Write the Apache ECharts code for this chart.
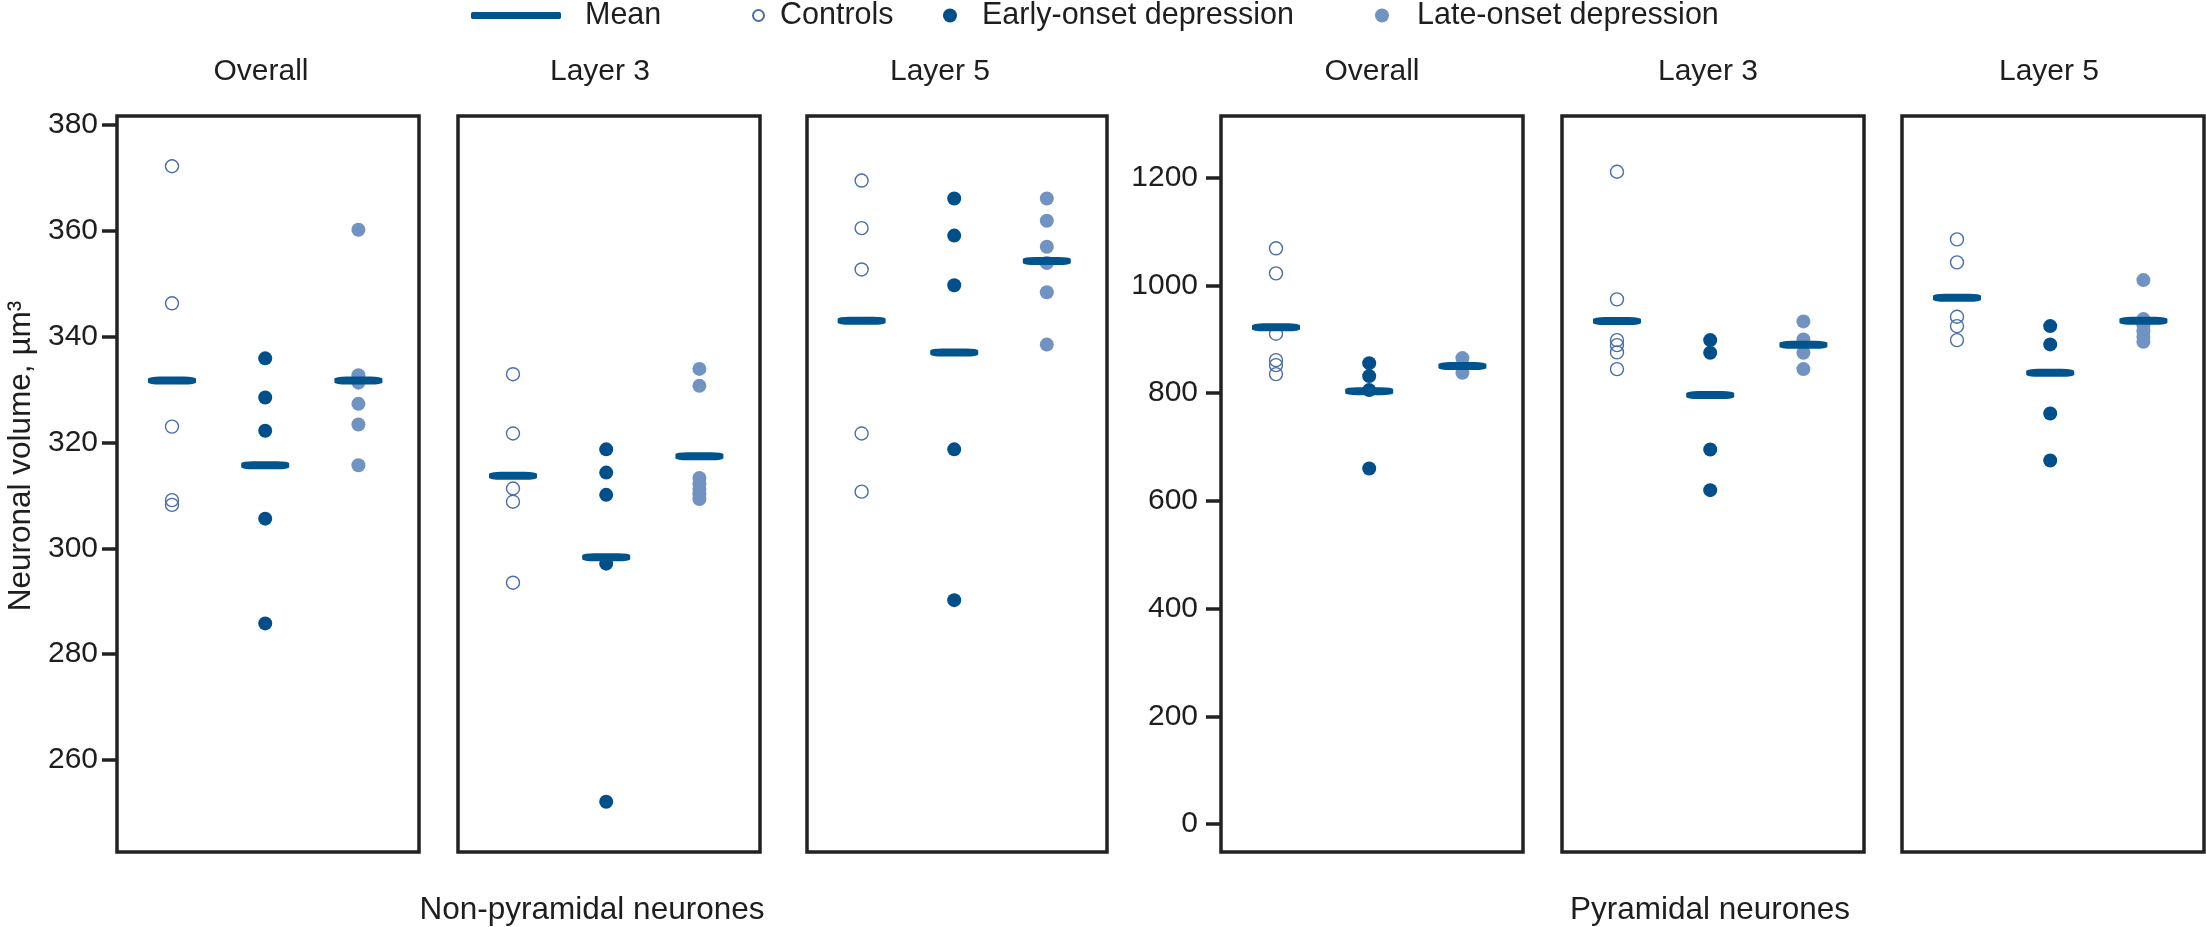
<!DOCTYPE html>
<html>
<head>
<meta charset="utf-8">
<script src="https://cdn.jsdelivr.net/npm/echarts@6/dist/echarts.min.js"></script>
<style>
html,body{margin:0;padding:0;background:#fff;}
#chart{width:2206px;height:927px;}
</style>
</head>
<body>
<div id="chart"></div>
<script>
// ---------- data ----------
const panelTitles = ['Overall', 'Layer 3', 'Layer 5', 'Overall', 'Layer 3', 'Layer 5'];
const groupLabels = ['Non-pyramidal neurones', 'Pyramidal neurones'];
const seriesNames = ['Mean', 'Controls', 'Early-onset depression', 'Late-onset depression'];
const yAxisTitle = 'Neuronal volume, µm³';

const controls = [
  [372.2, 346.3, 323.0, 309.1, 308.2],
  [332.9, 321.7, 311.3, 308.8, 293.5],
  [369.5, 360.5, 352.7, 321.7, 310.7],
  [1069, 1022.5, 910.3, 861.4, 852.1, 835.4],
  [1211.2, 974.2, 898.6, 889.3, 875.7, 844.7],
  [1085.6, 1042.9, 941.9, 924.6, 898.6]
];
const earlyOnset = [
  [335.9, 328.5, 322.2, 305.6, 285.8],
  [318.7, 314.3, 310.1, 297.1, 252.1],
  [366.1, 359.1, 349.7, 318.7, 290.2],
  [855.8, 831.7, 805.7, 660.2],
  [898.6, 875.0, 695.5, 619.9],
  [924.6, 890.6, 762.4, 675.0]
];
const lateOnset = [
  [360.2, 332.7, 331.3, 327.3, 323.4, 315.7],
  [333.9, 330.7, 313.3, 312.2, 311.2, 310.2, 309.3],
  [366.1, 361.9, 357.0, 353.9, 348.4, 338.5],
  [865.1, 850.3, 837.8],
  [933.3, 899.9, 875.0, 844.7],
  [1010, 937.6, 926.0, 915.0, 905.0, 895.4]
];
// means: [controls, early-onset, late-onset]
const means = [
  [331.7, 315.7, 331.7],
  [313.7, 298.3, 317.4],
  [343.0, 337.0, 354.3],
  [922.2, 803.8, 850.3],
  [933.9, 796.4, 889.8],
  [977.2, 837.8, 934.4]
];
const nonPyrTicks = [260, 280, 300, 320, 340, 360, 380];
const pyrTicks = [0, 200, 400, 600, 800, 1000, 1200];
const nonPyrRange = [242.6, 381.7];
const pyrRange = [-52, 1314.7];

// ---------- style / layout ----------
const FONT = 'Liberation Sans';
const TXT = '#1e1e1e';
const C_MEAN = '#00548E';
const C_CTRL = '#4A6EA8';
const C_EARLY = '#004F8A';
const C_LATE = '#7093C1';
const gridLefts = [117, 458, 807, 1221, 1562, 1902];
const gridWidths = [302, 302, 300, 302, 302, 302];
const titleCenters = [261, 600, 940, 1372, 1708, 2049];
const gridTop = 116, gridHeight = 736;

const chart = echarts.init(document.getElementById('chart'), null, {renderer: 'canvas'});

const grids = [], xAxes = [], yAxes = [], series = [], titles = [];
for (let i = 0; i < 6; i++) {
  grids.push({
    left: gridLefts[i], top: gridTop, width: gridWidths[i], height: gridHeight,
    show: true, borderColor: '#222', borderWidth: 3.5, backgroundColor: 'transparent'
  });
  xAxes.push({
    gridIndex: i, type: 'value', min: 0.41, max: 3.65, show: false
  });
  const pyr = i >= 3;
  const ticks = pyr ? pyrTicks : nonPyrTicks;
  const range = pyr ? pyrRange : nonPyrRange;
  const showAxis = (i === 0 || i === 3);
  yAxes.push({
    gridIndex: i, type: 'value', min: range[0], max: range[1],
    name: i === 0 ? yAxisTitle : '',
    nameLocation: 'middle', nameGap: 80,
    nameTextStyle: {fontFamily: FONT, fontSize: 31.5, color: TXT, padding: [0, 0, 0, 56]},
    axisLine: {show: false},
    splitLine: {show: false},
    axisTick: {show: showAxis, length: 15, inside: false, customValues: ticks,
      lineStyle: {color: '#222', width: 3.5}},
    axisLabel: {show: showAxis, customValues: ticks, margin: pyr ? 23 : 19,
      formatter: v => String(v),
      fontFamily: FONT, fontSize: 30, color: TXT}
  });
  series.push({
    name: seriesNames[1], type: 'scatter', xAxisIndex: i, yAxisIndex: i,
    symbol: 'circle', symbolSize: 13, z: 2,
    itemStyle: {color: 'rgba(255,255,255,0)', borderColor: C_CTRL, borderWidth: 1.4, opacity: 1},
    data: controls[i].map(v => [1, v])
  });
  series.push({
    name: seriesNames[2], type: 'scatter', xAxisIndex: i, yAxisIndex: i,
    symbol: 'circle', symbolSize: 14, z: 2,
    itemStyle: {color: C_EARLY, opacity: 1},
    data: earlyOnset[i].map(v => [2, v])
  });
  series.push({
    name: seriesNames[3], type: 'scatter', xAxisIndex: i, yAxisIndex: i,
    symbol: 'circle', symbolSize: 14, z: 2,
    itemStyle: {color: C_LATE, opacity: 1},
    data: lateOnset[i].map(v => [3, v])
  });
  series.push({
    name: seriesNames[0], type: 'scatter', xAxisIndex: i, yAxisIndex: i,
    symbol: 'roundRect', symbolSize: [48, 8], z: 5,
    itemStyle: {color: C_MEAN, opacity: 1},
    data: means[i].map((v, k) => [k + 1, v])
  });
  titles.push({
    text: panelTitles[i], left: titleCenters[i], top: 54,
    textAlign: 'center', padding: 0,
    textStyle: {fontFamily: FONT, fontSize: 30, fontWeight: 'normal', color: TXT, lineHeight: 36}
  });
}
titles.push({
  text: groupLabels[0], left: 592, top: 892, textAlign: 'center', padding: 0,
  textStyle: {fontFamily: FONT, fontSize: 31.5, fontWeight: 'normal', color: TXT, lineHeight: 36}
});
titles.push({
  text: groupLabels[1], left: 1710, top: 892, textAlign: 'center', padding: 0,
  textStyle: {fontFamily: FONT, fontSize: 31.5, fontWeight: 'normal', color: TXT, lineHeight: 36}
});

function legendAt(name, left, icon, w, h, pad) {
  return {
    data: [{name: name, icon: icon}], left: left, top: 0, padding: 0,
    itemWidth: w, itemHeight: h, selectedMode: false,
    textStyle: {fontFamily: FONT, fontSize: 30.5, color: TXT, padding: [0, 0, 0, pad], lineHeight: 30}
  };
}
const legends = [
  legendAt(seriesNames[0], 471, 'roundRect', 90, 7, 19),
  legendAt(seriesNames[1], 752, 'circle', 11, 11, 11),
  legendAt(seriesNames[2], 943, 'circle', 14, 14, 20),
  legendAt(seriesNames[3], 1375, 'circle', 14, 14, 23)
];

chart.setOption({
  backgroundColor: '#fff',
  animation: false,
  title: titles,
  legend: legends,
  grid: grids,
  xAxis: xAxes,
  yAxis: yAxes,
  series: series
});
</script>
</body>
</html>
